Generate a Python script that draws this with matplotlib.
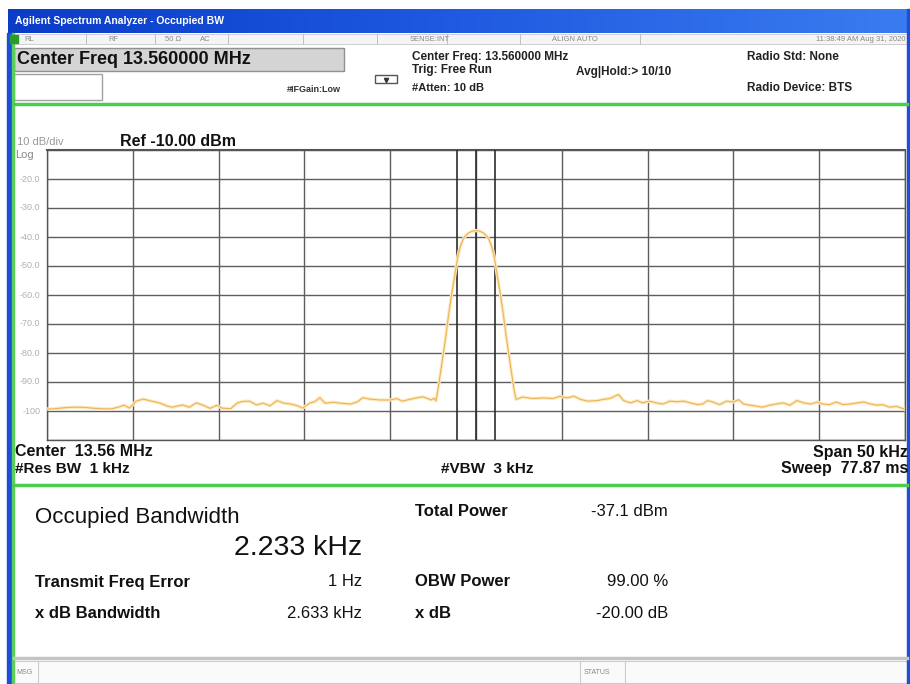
import numpy as np
import matplotlib.pyplot as plt
from matplotlib.patches import Rectangle
from matplotlib.colors import LinearSegmentedColormap

# trace: offset from 13.56 MHz (kHz) and level (dBm)
freq_khz = [-25.0, -24.7, -24.2, -23.8, -23.5, -23.1, -22.7, -22.4, -21.9, -21.5,
            -21.2, -20.8, -20.5, -20.2, -19.8, -19.4, -18.9, -18.4, -18.0, -17.7,
            -17.1, -16.7, -16.3, -15.9, -15.5, -15.1, -14.8, -14.3, -13.9, -13.6,
            -13.2, -12.8, -12.4, -12.0, -11.6, -11.2, -10.8, -10.4, -10.1, -9.7,
            -9.4, -9.1, -8.8, -8.3, -7.9, -7.3, -6.9, -6.6, -6.2, -5.6,
            -5.0, -4.6, -4.3, -3.8, -3.4, -3.1, -2.6, -2.45,
            -2.33, -2.2, -2.0, -1.8, -1.6, -1.4, -1.22, -1.05, -0.9, -0.75,
            -0.6, -0.45, -0.3, -0.15, 0.0, 0.15, 0.3, 0.45, 0.6, 0.75,
            0.9, 1.05, 1.22, 1.4, 1.6, 1.8, 2.0, 2.2, 2.33,
            2.45, 2.7, 3.3, 3.9, 4.5, 4.9, 5.3, 5.7, 6.1, 6.5,
            7.1, 7.4, 7.8, 8.3, 8.6, 9.0, 9.4, 9.7, 10.1, 10.5,
            10.9, 11.3, 11.7, 12.1, 12.5, 12.9, 13.2, 13.5, 13.8, 14.2,
            14.6, 15.0, 15.3, 15.6, 16.0, 16.4, 16.7, 17.1, 17.5, 17.9,
            18.3, 18.7, 19.1, 19.5, 19.9, 20.2, 20.6, 21.0, 21.4, 21.8,
            22.2, 22.6, 23.0, 23.4, 23.7, 24.1, 24.5, 24.9, 25.0]
level_dbm = [-99.3, -99.3, -99.0, -98.8, -98.7, -98.7, -98.8, -99.0, -99.2, -99.3,
             -99.2, -98.6, -98.0, -99.0, -96.6, -95.9, -96.6, -97.3, -98.3, -98.7,
             -97.9, -98.7, -97.2, -98.0, -99.1, -98.0, -99.0, -99.2, -97.2, -96.7,
             -96.6, -97.9, -97.3, -98.2, -96.4, -97.3, -97.6, -98.2, -99.0, -97.3,
             -96.8, -95.4, -97.3, -97.0, -97.3, -97.6, -96.8, -95.4, -95.9, -96.2,
             -96.2, -95.7, -96.6, -95.9, -95.4, -95.1, -96.2, -95.6,
             -96.5, -92.0, -84.0, -76.0, -67.0, -59.0, -52.5, -46.5, -43.0, -40.8,
             -39.5, -38.7, -38.2, -37.9, -37.8, -37.9, -38.2, -38.7, -39.5, -40.8,
             -43.0, -46.5, -52.5, -59.0, -67.0, -76.0, -84.0, -92.0, -96.0,
             -95.8, -95.2, -95.7, -95.5, -95.7, -94.9, -95.5, -94.9, -96.0, -96.6,
             -96.4, -96.0, -95.7, -94.3, -96.4, -97.2, -96.4, -97.2, -96.6, -97.2,
             -97.6, -96.6, -96.8, -96.6, -97.2, -97.8, -97.6, -96.4, -96.9, -97.8,
             -96.6, -96.9, -96.1, -97.6, -98.0, -98.4, -98.7, -98.0, -97.6, -97.2,
             -98.0, -96.4, -97.2, -97.6, -96.9, -97.6, -97.8, -96.9, -97.8, -97.6,
             -97.2, -96.9, -97.6, -98.0, -97.8, -98.7, -98.4, -99.2, -99.5]

obw_khz = 2.233
ref_level = -10.0
db_per_div = 10
span_khz = 50
y_labels = ['-20.0', '-30.0', '-40.0', '-50.0', '-60.0', '-70.0', '-80.0', '-90.0', '-100']

FONT = 'Liberation Sans'
W, H = 910, 684

fig = plt.figure(figsize=(W / 100, H / 100), dpi=100)
fig.patch.set_facecolor('white')

# overlay in screen pixels for the instrument frame and readouts
ov = fig.add_axes([0, 0, 1, 1])
ov.set_xlim(0, W)
ov.set_ylim(H, 0)
ov.axis('off')


def txt(x, y, s, size=9, weight='normal', color='#111111', ha='left'):
    ov.text(x, y, s, fontsize=size, fontweight=weight, color=color, ha=ha,
            va='center', family=FONT)


# window title bar
grad = np.linspace(0, 1, 256).reshape(1, -1)
xp = LinearSegmentedColormap.from_list('xp', ['#0a3cc8', '#1f5ae0', '#3a7cf0'])
ov.imshow(grad, extent=[8, W, 33, 9], cmap=xp, aspect='auto', zorder=1)
txt(15, 21, 'Agilent Spectrum Analyzer - Occupied BW', 7.5, 'bold', 'white')

# left / right window borders
ov.add_patch(Rectangle((7, 33), 5, H - 33, color='#1a4fd8', zorder=2))
ov.add_patch(Rectangle((12, 33), 2, H - 33, color='#5ad05a', zorder=2))
ov.add_patch(Rectangle((W - 3, 9), 3, H - 9, color='#1a4fd8', zorder=2))

# status row
ov.add_patch(Rectangle((14, 34), W - 17, 10, facecolor='#f4f4f4', edgecolor='#c8c8c8', lw=0.6))
for sx in [86, 155, 228, 303, 377, 447, 520, 640]:
    ov.plot([sx, sx], [34, 44], color='#b8b8b8', lw=0.6)
ov.add_patch(Rectangle((10, 35), 8, 8, color='#2a9a2a', zorder=3))
for sx, s in [(24, 'RL'), (108, 'RF'), (165, '50 \u03a9'), (200, 'AC'),
              (410, 'SENSE:INT'), (552, 'ALIGN AUTO')]:
    txt(sx, 39.5, s, 5.5, color='#888888')
txt(W - 4, 39.5, '11:38:49 AM Aug 31, 2020', 5.5, color='#888888', ha='right')

# active function area
ov.add_patch(Rectangle((14, 48), 330, 23, facecolor='#d4d4d4', edgecolor='#909090', lw=1))
txt(17, 60, 'Center Freq 13.560000 MHz', 13, 'bold')
ov.add_patch(Rectangle((14, 74), 88, 26, facecolor='white', edgecolor='#a0a0a0', lw=1))
txt(287, 90, '#IFGain:Low', 6.5, 'bold', '#333333')
ov.add_patch(Rectangle((375, 75), 22, 8, facecolor='white', edgecolor='#555555', lw=1, zorder=3))
ov.plot([386], [80], marker='v', color='#333333', ms=3, zorder=4)
txt(412, 57, 'Center Freq: 13.560000 MHz', 8.5, 'bold', '#222222')
txt(412, 70, 'Trig: Free Run', 8.5, 'bold', '#222222')
txt(412, 88, '#Atten: 10 dB', 8, 'bold', '#222222')
txt(576, 72, 'Avg|Hold:> 10/10', 8.5, 'bold', '#222222')
txt(747, 57, 'Radio Std: None', 8.5, 'bold', '#222222')
txt(747, 88, 'Radio Device: BTS', 8.5, 'bold', '#222222')
ov.plot([14, W - 3], [103.5, 103.5], color='#4ccc4c', lw=2.5)

# trace window
txt(17, 142, '10 dB/div', 8, color='#999999')
txt(120, 142, 'Ref -10.00 dBm', 11.5, 'bold')
txt(15, 155, 'Log', 8, color='#888888')

ax = fig.add_axes([47 / W, 1 - 440 / H, 858 / W, 290 / H])
ax.set_facecolor('white')
ax.set_xlim(-span_khz / 2, span_khz / 2)
ax.set_ylim(ref_level - 10 * db_per_div, ref_level)
ax.set_xticks(np.arange(-span_khz / 2, span_khz / 2 + 0.1, span_khz / 10))
ax.set_yticks(np.arange(ref_level - 10 * db_per_div, ref_level + 0.1, db_per_div))
ax.grid(True, color='#5e5e5e', lw=1)
ax.tick_params(length=0, labelbottom=False, labelleft=False)
for side, sp in ax.spines.items():
    sp.set_color('#555555')
    sp.set_linewidth(1.5 if side == 'top' else 1.0)
for v, lab in zip(np.arange(ref_level - db_per_div, ref_level - 10 * db_per_div - 0.1, -db_per_div), y_labels):
    ax.text(-0.008, v, lab, transform=ax.get_yaxis_transform(), ha='right', va='center',
            fontsize=6.5, color='#b0b0b0', family=FONT)

for fx in [-obw_khz / 2, 0, obw_khz / 2]:
    ax.axvline(fx, color='#2e2e2e', lw=1.2, zorder=3)
ax.plot(freq_khz, level_dbm, color='#fcebc0', lw=2.4, zorder=4, solid_joinstyle='round')
ax.plot(freq_khz, level_dbm, color='#eeb257', lw=0.8, zorder=5, solid_joinstyle='round')

txt(15, 452, 'Center  13.56 MHz', 11.5, 'bold')
txt(15, 469, '#Res BW  1 kHz', 11, 'bold')
txt(441, 469, '#VBW  3 kHz', 11, 'bold')
txt(W - 2, 452, 'Span 50 kHz', 11.5, 'bold', ha='right')
txt(W - 2, 469, 'Sweep  77.87 ms', 11.5, 'bold', ha='right')
ov.plot([14, W - 3], [485, 485], color='#4ccc4c', lw=2.5)

# measurement results
txt(35, 518, 'Occupied Bandwidth', 16)
txt(362, 548, '2.233 kHz', 20.5, ha='right')
txt(415, 512, 'Total Power', 12, 'bold')
txt(668, 512, '-37.1 dBm', 12, ha='right')
txt(35, 582, 'Transmit Freq Error', 12, 'bold')
txt(362, 582, '1 Hz', 12, ha='right')
txt(415, 582, 'OBW Power', 12, 'bold')
txt(668, 582, '99.00 %', 12, ha='right')
txt(35, 614, 'x dB Bandwidth', 12, 'bold')
txt(362, 614, '2.633 kHz', 12, ha='right')
txt(415, 614, 'x dB', 12, 'bold')
txt(668, 614, '-20.00 dB', 12, ha='right')

# message / status bar
ov.plot([14, W - 3], [658, 658], color='#c4c4c4', lw=2.5)
ov.add_patch(Rectangle((14, 661), W - 17, 22, facecolor='#fafafa', edgecolor='#cccccc', lw=0.8))
for sx in [38, 580, 625]:
    ov.plot([sx, sx], [661, 683], color='#cccccc', lw=0.8)
txt(16, 672, 'MSG', 5, color='#888888')
txt(584, 672, 'STATUS', 5, color='#888888')

fig.savefig('out.png', dpi=100)
